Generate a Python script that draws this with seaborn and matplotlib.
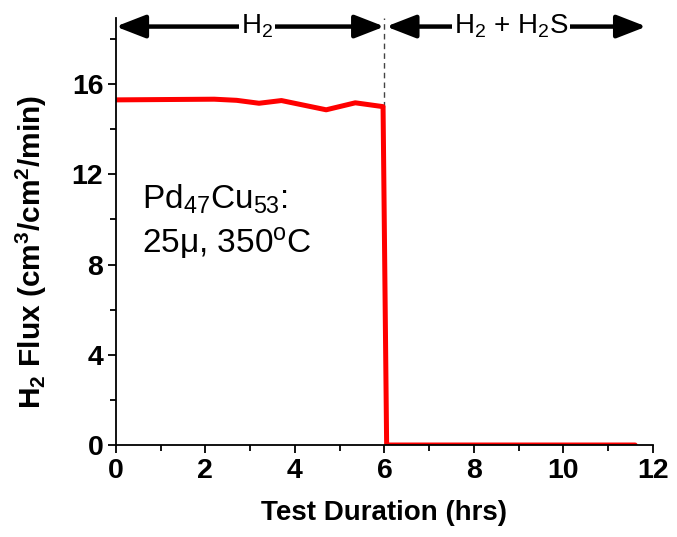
import matplotlib
matplotlib.use("Agg")
import matplotlib.pyplot as plt
import seaborn as sns
import pandas as pd
from matplotlib.ticker import MultipleLocator

# data
hours = [0.0, 2.2, 2.7, 3.2, 3.7, 4.7, 5.35, 5.97, 6.05, 11.6]
flux = [15.3, 15.33, 15.28, 15.15, 15.27, 14.86, 15.17, 15.0, 0.0, 0.0]
switch_time = 6.0
x_ticks = [0, 2, 4, 6, 8, 10, 12]
y_ticks = [0, 4, 8, 12, 16]

df = pd.DataFrame({"hours": hours, "flux": flux})

sns.set_theme(style="ticks")
plt.rcParams["font.family"] = ["Liberation Sans", "DejaVu Sans"]
plt.rcParams["mathtext.fontset"] = "custom"
plt.rcParams["mathtext.rm"] = "Liberation Sans"
plt.rcParams["mathtext.it"] = "Liberation Sans"
plt.rcParams["mathtext.bf"] = "Liberation Sans:bold"
plt.rcParams["mathtext.default"] = "regular"
plt.rcParams["text.color"] = "black"
plt.rcParams["axes.labelcolor"] = "black"
plt.rcParams["xtick.color"] = "black"
plt.rcParams["ytick.color"] = "black"

fig = plt.figure(figsize=(6.77, 5.37), dpi=100)
ax = fig.add_axes([0.171, 0.1713, 0.7936, 0.7952])

sns.lineplot(data=df, x="hours", y="flux", ax=ax, color="#ff0000", lw=3.6,
             sort=False, estimator=None)

ax.set_xlim(0, 12)
ax.set_ylim(0, 18.93)
ax.set_xticks(x_ticks)
ax.set_yticks(y_ticks)
ax.xaxis.set_minor_locator(MultipleLocator(1))
ax.yaxis.set_minor_locator(MultipleLocator(2))
for s in ["top", "right"]:
    ax.spines[s].set_visible(False)
for s in ["left", "bottom"]:
    ax.spines[s].set_linewidth(1.3)
    ax.spines[s].set_color("black")
ax.tick_params(which="major", length=6, width=1.3, color="black", labelsize=20.5, pad=3)
ax.tick_params(which="minor", length=4, width=1.3, color="black")
for lab in ax.get_xticklabels() + ax.get_yticklabels():
    lab.set_fontweight("bold")

ax.set_xlabel("Test Duration (hrs)", fontsize=20, fontweight="bold", labelpad=12)
ax.set_ylabel(r"$\mathbf{H_2}$ Flux (cm$\mathbf{^3}$/cm$\mathbf{^2}$/min)", fontsize=21.5,
              fontweight="bold")
ax.yaxis.set_label_coords(-0.125, 0.452)

# vertical dashed separator
ax.plot([switch_time, switch_time], [flux[7], 18.93], ls=(0, (4, 3)), lw=1.0,
        color="#444444", zorder=1)

# arrows at top
ya = 18.55
ap = dict(arrowstyle="<|-|>,head_length=0.9,head_width=0.35", lw=3.2, color="black",
          shrinkA=0, shrinkB=0, mutation_scale=20)
ax.annotate("", xy=(0.0, ya), xytext=(switch_time, ya), arrowprops=ap, annotation_clip=False)
ax.annotate("", xy=(switch_time + 0.04, ya), xytext=(11.85, ya), arrowprops=ap,
            annotation_clip=False)
bb = dict(facecolor="white", edgecolor="none", pad=1.5)
ax.text(3.15, ya, r"H$_2$", fontsize=20, ha="center", va="center", bbox=bb, zorder=5)
ax.text(8.83, ya, r"H$_2$ + H$_2$S", fontsize=20, ha="center", va="center", bbox=bb, zorder=5)

ax.text(0.58, 10.46, r"Pd$_{47}$Cu$_{53}$:", fontsize=24, ha="left", va="baseline")
ax.text(0.58, 8.51, r"25μ, 350$^{o}$C", fontsize=24, ha="left", va="baseline")

fig.savefig("out.png", dpi=100)
